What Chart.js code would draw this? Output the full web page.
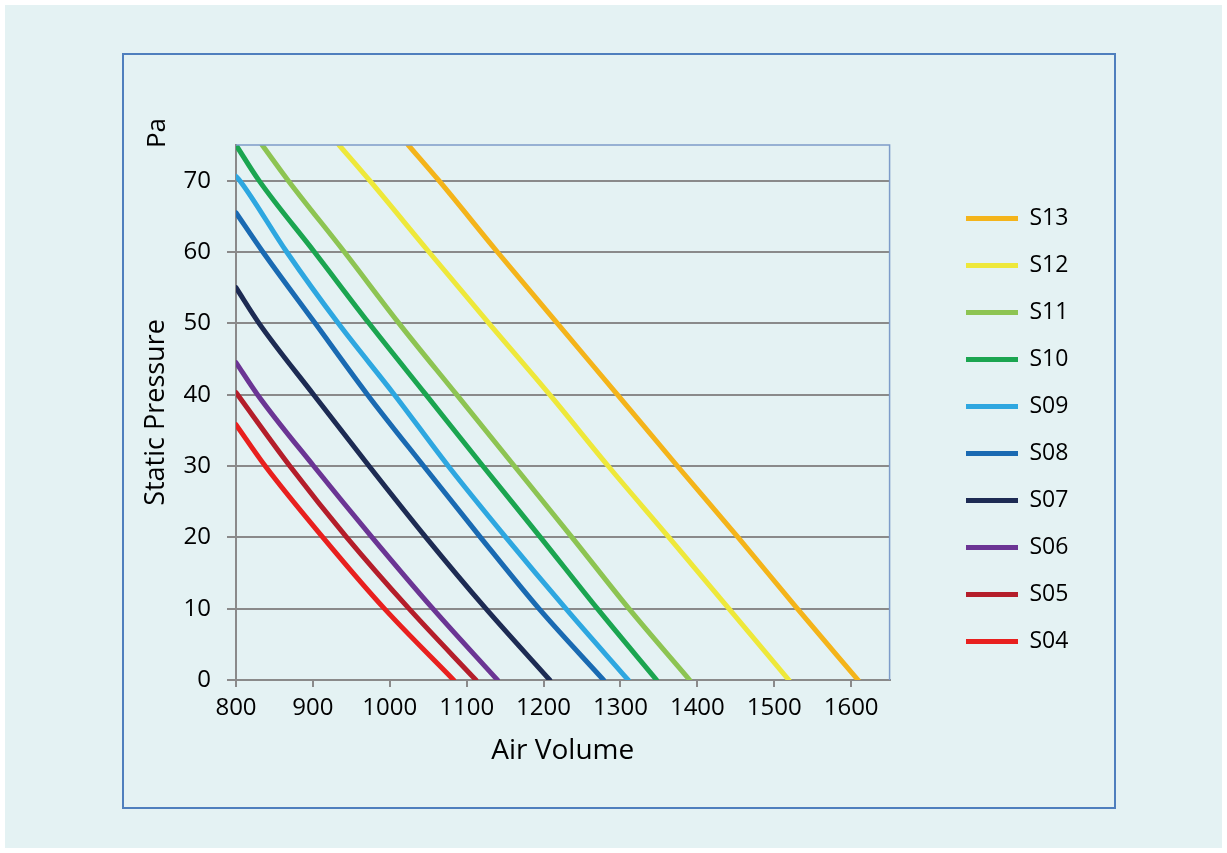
<!DOCTYPE html>
<html>
<head>
<meta charset="utf-8">
<script src="https://cdn.jsdelivr.net/npm/chart.js@4.4.1/dist/chart.umd.min.js"></script>
<style>
  body { margin: 0; background: #fff; }
  #outer { position: absolute; left: 5px; top: 5px; width: 1217px; height: 843px; background: #e4f2f3; }
  #box { position: absolute; left: 117px; top: 48px; width: 990px; height: 752px; border: 2px solid #4f7fbd; }
  canvas { display: block; }
</style>
</head>
<body>
<div id="outer">
  <div id="box"><canvas id="grafico" width="990" height="752"></canvas></div>
</div>
<script>
// series: air volume at each pressure point
const seriesNames = ["S04", "S05", "S06", "S07", "S08", "S09", "S10", "S11", "S12", "S13"];
const seriesColors = ["#e8201e", "#b41e2a", "#6b3594", "#1d2b53", "#1a6ab2", "#2ea7e0", "#1ba550", "#8dc452", "#eee83a", "#f4b41a"];

const volS04 = [800, 838, 913, 993, 1083];
const presS04 = [35.8, 30, 20, 10, 0];
const volS05 = [800, 870, 944, 1025, 1112];
const presS05 = [40.3, 30, 20, 10, 0];
const volS06 = [800, 828, 901, 977, 1056, 1140];
const presS06 = [44.5, 40, 30, 20, 10, 0];
const volS07 = [800, 830, 901, 973, 1047, 1125, 1208];
const presS07 = [55, 50, 40, 30, 20, 10, 0];
const volS08 = [800, 835, 903, 971, 1044, 1118, 1194, 1278];
const presS08 = [65.5, 60, 50, 40, 30, 20, 10, 0];
const volS09 = [800, 805, 866, 933, 1006, 1076, 1151, 1229, 1310];
const presS09 = [70.6, 70, 60, 50, 40, 30, 20, 10, 0];
const volS10 = [800, 830, 902, 973, 1047, 1121, 1196, 1270, 1347];
const presS10 = [75, 70, 60, 50, 40, 30, 20, 10, 0];
const volS11 = [834, 868, 941, 1012, 1087, 1162, 1237, 1311, 1390];
const presS11 = [75, 70, 60, 50, 40, 30, 20, 10, 0];
const volS12 = [934, 974, 1051, 1129, 1208, 1284, 1363, 1441, 1519];
const presS12 = [75, 70, 60, 50, 40, 30, 20, 10, 0];
const volS13 = [1024, 1064, 1140, 1218, 1296, 1374, 1453, 1530, 1609];
const presS13 = [75, 70, 60, 50, 40, 30, 20, 10, 0];

const volumes = [volS04, volS05, volS06, volS07, volS08, volS09, volS10, volS11, volS12, volS13];
const pressures = [presS04, presS05, presS06, presS07, presS08, presS09, presS10, presS11, presS12, presS13];

const xMin = 800, xMax = 1650, xStep = 100;
const yMin = 0, yMax = 75, yStep = 10;

const fuente = "'Open Sans', 'Noto Sans', sans-serif";
const grisEje = "#8a8a8a";

function puntos(vols, pres) {
  return vols.map(function (v, i) {
    return { x: v, y: pres[i] };
  });
}

const datasets = seriesNames.map(function (nombre, i) {
  return {
    label: nombre,
    data: puntos(volumes[i], pressures[i]),
    borderColor: seriesColors[i],
    backgroundColor: seriesColors[i],
    borderWidth: 5,
    borderCapStyle: "round",
    pointRadius: 0,
    cubicInterpolationMode: "monotone",
  };
});

// top/right frame of the plot, the "Pa" unit and legend placement
const extras = {
  id: "extras",
  afterLayout(chart) {
    const lg = chart.legend;
    lg.left = 818;
    lg.right = chart.width;
    lg.top = 128;
    lg.bottom = chart.height;
  },
  afterDraw(chart) {
    const ctx = chart.ctx;
    const a = chart.chartArea;
    ctx.save();
    ctx.strokeStyle = "#7d9cc9";
    ctx.lineWidth = 1.5;
    ctx.beginPath();
    ctx.moveTo(a.left, a.top);
    ctx.lineTo(a.right, a.top);
    ctx.lineTo(a.right, a.bottom);
    ctx.stroke();
    ctx.translate(34, 78);
    ctx.rotate(-Math.PI / 2);
    ctx.fillStyle = "#000";
    ctx.font = "26px " + fuente;
    ctx.textAlign = "center";
    ctx.textBaseline = "middle";
    ctx.fillText("Pa", 0, 0);
    ctx.restore();
  },
};

const context = document.getElementById("grafico");
const grafico = new Chart(context, {
  type: "line",
  data: { datasets: datasets },
  plugins: [extras],
  options: {
    responsive: false,
    animation: false,
    devicePixelRatio: 1,
    layout: { padding: { left: 13, top: 90, right: 88, bottom: 36 } },
    plugins: {
      tooltip: { enabled: false },
      legend: {
        position: "right",
        align: "start",
        reverse: true,
        labels: {
          usePointStyle: true,
          pointStyle: "line",
          pointStyleWidth: 52,
          boxHeight: 5,
          padding: 24,
          color: "#000",
          font: { family: fuente, size: 23 },
        },
      },
    },
    scales: {
      x: {
        type: "linear",
        min: xMin,
        max: xMax,
        afterFit: function (scale) { scale.height = 91; },
        ticks: {
          stepSize: xStep,
          includeBounds: false,
          format: { useGrouping: false },
          padding: 7,
          color: "#000",
          font: { family: fuente, size: 24 },
        },
        grid: { drawOnChartArea: false, tickLength: 7, color: grisEje, lineWidth: 2 },
        border: { color: grisEje, width: 2 },
        title: {
          display: true,
          text: "Air Volume",
          color: "#000",
          font: { family: fuente, size: 28 },
          padding: { top: 4, bottom: 3 },
        },
      },
      y: {
        min: yMin,
        max: yMax,
        afterFit: function (scale) { scale.width = 99; },
        ticks: {
          stepSize: yStep,
          includeBounds: false,
          padding: 16,
          color: "#000",
          font: { family: fuente, size: 24 },
        },
        grid: { tickLength: 9, color: grisEje, lineWidth: 2 },
        border: { color: grisEje, width: 2 },
        title: {
          display: true,
          text: "Static Pressure",
          color: "#000",
          font: { family: fuente, size: 27 },
          padding: { top: 3, bottom: 4 },
        },
      },
    },
  },
});
</script>
</body>
</html>
